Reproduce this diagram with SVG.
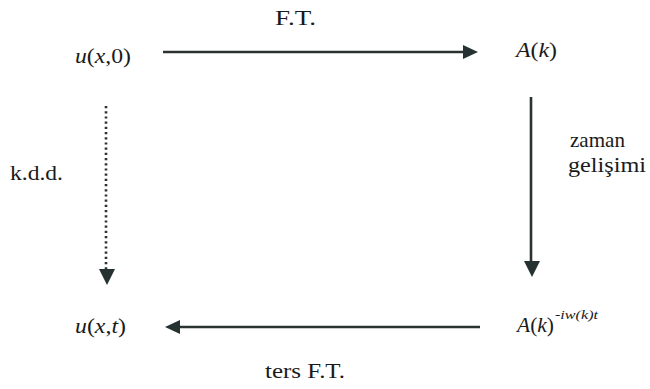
<svg xmlns="http://www.w3.org/2000/svg" width="650" height="389" viewBox="0 0 650 389">
<style>
.ln{stroke:#2b3232;stroke-width:2.6;fill:none}
.dot{stroke:#2b3232;stroke-width:2.6;fill:none;stroke-dasharray:2.2 3}
.hd{fill:#263232}
</style>
<rect width="650" height="389" fill="#ffffff"/>
<g font-family="'Times New Roman', 'Liberation Serif', Tinos, 'DejaVu Serif', 'Noto Serif', serif" font-size="22" fill="#1a1a1a">
<g id="u0"><text x="75" y="63" textLength="56" lengthAdjust="spacingAndGlyphs"><tspan font-style="italic">u</tspan>(<tspan font-style="italic">x</tspan>,0)</text></g>
<g id="Ak"><text x="516" y="57" textLength="41" lengthAdjust="spacingAndGlyphs"><tspan font-style="italic">A</tspan>(<tspan font-style="italic">k</tspan>)</text></g>
<g id="uxt"><text x="75" y="333" textLength="51" lengthAdjust="spacingAndGlyphs"><tspan font-style="italic">u</tspan>(<tspan font-style="italic">x</tspan>,<tspan font-style="italic">t</tspan>)</text></g>
<g id="Akt"><text x="517" y="332" textLength="37" lengthAdjust="spacingAndGlyphs"><tspan font-style="italic">A</tspan>(<tspan font-style="italic">k</tspan>)</text><text x="555" y="319" font-size="13" font-style="italic" textLength="43" lengthAdjust="spacingAndGlyphs">-iw(k)t</text></g>
<g id="labels">
<text x="275" y="25" textLength="41" lengthAdjust="spacingAndGlyphs">F.T.</text>
<text x="10" y="180" textLength="53" lengthAdjust="spacingAndGlyphs">k.d.d.</text>
<text x="570" y="147" textLength="55" lengthAdjust="spacingAndGlyphs">zaman</text>
<text x="568" y="172" textLength="78" lengthAdjust="spacingAndGlyphs">gelişimi</text>
<text x="265" y="378" textLength="80" lengthAdjust="spacingAndGlyphs">ters F.T.</text>
</g>
</g>
<g id="connectors">
<g id="ft"><line class="ln" x1="163" y1="52" x2="465" y2="52"/><polygon class="hd" points="463,45 478,52 463,59"/></g>
<g id="kdd"><line class="dot" x1="106" y1="106" x2="106" y2="270"/><polygon class="hd" points="99,269 115,269 107,285"/></g>
<g id="zaman"><line class="ln" x1="531" y1="97" x2="531" y2="263"/><polygon class="hd" points="524,261 540,261 532,277"/></g>
<g id="ters"><line class="ln" x1="480" y1="327" x2="178" y2="327"/><polygon class="hd" points="180,320 165,327 180,334"/></g>
</g>
</svg>
